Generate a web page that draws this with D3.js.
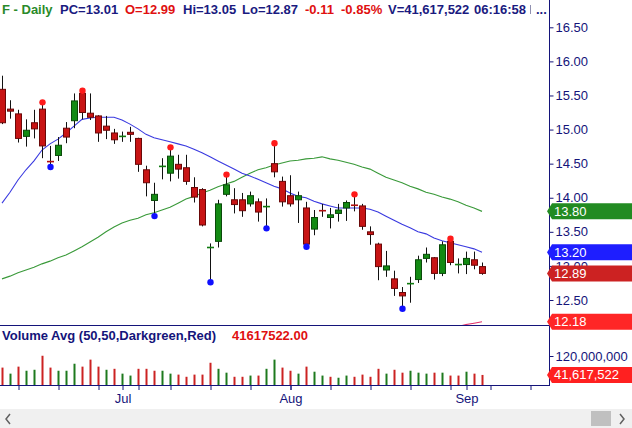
<!DOCTYPE html>
<html>
<head>
<meta charset="utf-8">
<script src="https://cdnjs.cloudflare.com/ajax/libs/d3/7.8.5/d3.min.js"></script>
<style>
  body { margin: 0; background: #fff; }
  svg { display: block; }
  text { font-family: "Liberation Sans", Arial, sans-serif; }
</style>
</head>
<body>
<div id="chart"></div>
<script>
// trading days shown (F - Daily, Jun 10 .. Sep 3 2021)
const dates = [
  "2021-06-10","2021-06-11","2021-06-14","2021-06-15","2021-06-16","2021-06-17","2021-06-18",
  "2021-06-21","2021-06-22","2021-06-23","2021-06-24","2021-06-25","2021-06-28","2021-06-29","2021-06-30",
  "2021-07-01","2021-07-02","2021-07-06","2021-07-07","2021-07-08","2021-07-09","2021-07-12","2021-07-13",
  "2021-07-14","2021-07-15","2021-07-16","2021-07-19","2021-07-20","2021-07-21","2021-07-22","2021-07-23",
  "2021-07-26","2021-07-27","2021-07-28","2021-07-29","2021-07-30",
  "2021-08-02","2021-08-03","2021-08-04","2021-08-05","2021-08-06","2021-08-09","2021-08-10","2021-08-11",
  "2021-08-12","2021-08-13","2021-08-16","2021-08-17","2021-08-18","2021-08-19","2021-08-20","2021-08-23",
  "2021-08-24","2021-08-25","2021-08-26","2021-08-27","2021-08-30","2021-08-31",
  "2021-09-01","2021-09-02","2021-09-03"
];
// empty slots to the right of the last bar
const futureDates = ["2021-09-06","2021-09-07","2021-09-08","2021-09-09","2021-09-10","2021-09-13","2021-09-14","2021-09-15"];

const opens = [15.59,15.30,15.23,14.90,15.10,15.30,14.55,14.62,15.02,15.13,15.53,15.24,15.20,15.05,14.95,
  14.88,14.96,14.87,14.41,13.96,14.44,14.36,14.49,14.44,14.15,14.12,13.25,13.36,14.05,13.97,13.97,13.91,13.94,13.86,14.50,14.24,
  14.03,13.97,13.85,13.54,13.83,13.71,13.77,13.85,13.90,13.88,13.50,13.32,12.94,12.81,12.61,12.73,12.80,13.11,13.12,12.89,13.36,13.01,
  13.02,13.09,12.99];
const highs = [15.79,15.43,15.29,15.15,15.29,15.37,14.76,14.89,15.11,15.53,15.54,15.53,15.21,15.20,15.01,
  14.97,15.04,14.88,14.47,14.22,14.58,14.71,14.63,14.63,14.30,14.14,13.33,13.97,14.31,14.14,14.07,14.09,13.99,13.99,14.77,14.31,
  14.33,14.09,13.94,13.82,13.91,13.85,13.91,13.96,14.02,13.91,13.58,13.34,13.22,12.93,12.69,12.84,13.15,13.27,13.13,13.36,13.37,13.11,
  13.21,13.21,13.05];
const lows = [15.08,15.16,14.81,14.75,14.87,14.58,14.48,14.54,14.80,15.02,15.15,15.14,14.82,14.86,14.79,
  14.82,14.82,14.38,14.02,13.76,14.27,14.24,14.28,14.19,13.93,13.58,12.79,13.27,14.02,13.77,13.72,13.87,13.65,13.58,14.30,13.87,
  13.87,13.63,13.31,13.45,13.72,13.55,13.65,13.66,13.80,13.53,13.31,12.79,12.84,12.56,12.40,12.46,12.75,13.05,12.80,12.85,13.01,12.89,
  12.88,12.95,12.87];
const closes = [15.10,15.27,14.87,14.99,15.01,14.76,14.53,14.77,14.89,15.42,15.25,15.18,14.95,14.99,14.85,
  14.90,14.93,14.49,14.22,14.05,14.46,14.61,14.42,14.24,14.01,13.60,13.27,13.91,14.19,13.90,13.81,14.03,13.79,13.87,14.38,13.94,
  13.91,14.03,13.32,13.71,13.81,13.75,13.82,13.93,13.89,13.58,13.46,12.99,13.00,12.67,12.56,12.74,13.09,13.17,12.89,13.31,13.05,13.02,
  13.11,13.01,12.89];
// volume in millions of shares
const volumes = [72,47,76,59,63,121,72,59,59,88,76,105,76,63,67,
  47,39,67,67,59,59,47,43,34,43,43,92,67,51,34,34,39,39,67,105,72,
  59,47,76,55,39,34,30,39,34,43,34,67,47,63,51,59,51,47,51,51,39,39,
  55,47,41.617522];
// moving averages
const ma20 = [13.92,14.08,14.26,14.41,14.54,14.70,14.79,14.86,14.95,15.05,15.15,15.17,15.18,15.18,15.18,
  15.14,15.08,15.01,14.93,14.88,14.85,14.82,14.79,14.76,14.71,14.66,14.60,14.54,14.48,14.42,14.36,14.32,14.27,14.22,14.17,14.13,
  14.07,14.02,14.00,13.95,13.91,13.88,13.85,13.85,13.85,13.85,13.83,13.79,13.73,13.67,13.61,13.56,13.50,13.47,13.41,13.37,13.34,13.31,
  13.28,13.25,13.20];
const ma50 = [12.81,12.85,12.90,12.94,12.98,13.03,13.07,13.12,13.16,13.22,13.28,13.35,13.42,13.50,13.57,
  13.63,13.67,13.70,13.75,13.78,13.82,13.86,13.92,13.98,14.02,14.07,14.11,14.16,14.20,14.24,14.30,14.36,14.41,14.44,14.48,14.51,
  14.54,14.55,14.57,14.58,14.60,14.57,14.55,14.52,14.49,14.45,14.42,14.36,14.30,14.26,14.22,14.17,14.13,14.08,14.05,14.01,13.98,13.94,
  13.89,13.85,13.80];
// long average, only its last days reach the visible price range
const ma200Start = 55;
const ma200 = [12.06,12.08,12.11,12.14,12.16,12.18];

const swingHighs = [5,10,21,28,34,44,56];
const swingLows = [6,19,26,33,38,50];

const priceTicks = [12.5,13,13.5,14,14.5,15,15.5,16,16.5];
const volumeTicks = [120e6];
const weekTicks = ["2021-06-14","2021-06-21","2021-06-28","2021-07-06","2021-07-12","2021-07-19","2021-07-26",
  "2021-08-02","2021-08-09","2021-08-16","2021-08-23","2021-08-30","2021-09-06","2021-09-13"];
const monthTicks = ["2021-07-01","2021-08-02","2021-09-01"];
const monthLabels = ["Jul","Aug","Sep"];

const header = [
  {t: "F - Daily", x: 2, c: "#2a8a2a"},
  {t: "PC=13.01", x: 60, c: "#1a1a80"},
  {t: "O=12.99", x: 125, c: "#e01010"},
  {t: "Hi=13.05", x: 183, c: "#1a1a80"},
  {t: "Lo=12.87", x: 242, c: "#1a1a80"},
  {t: "-0.11", x: 305, c: "#e01010"},
  {t: "-0.85%", x: 341, c: "#e01010"},
  {t: "V=41,617,522", x: 388, c: "#1a1a80"},
  {t: "06:16:58", x: 474, c: "#1a1a80"},
  {t: "...", x: 536, c: "#1a1a80"}
];

const width = 632, height = 428;
const axisX = 549, priceBottom = 325, volBottom = 385;
const navy = "#14147a";

const svg = d3.select("#chart").append("svg")
  .attr("width", width)
  .attr("height", height);

const allDates = dates.concat(futureDates);
const x = d3.scalePoint().domain(allDates).range([2, 2 + 8 * (allDates.length - 1)]);
const y = d3.scaleLinear().domain([12.5, 16.5]).range([300, 27.3]);
const vy = d3.scaleLinear().domain([0, 120e6]).range([volBottom, 356]);

svg.append("clipPath").attr("id", "pclip")
  .append("rect").attr("x", 0).attr("y", 0).attr("width", axisX).attr("height", priceBottom);

// header
svg.append("g").selectAll("text")
  .data(header).enter().append("text")
  .attr("x", d => d.x).attr("y", 14)
  .attr("font-size", 13).attr("font-weight", "bold")
  .attr("fill", d => d.c)
  .text(d => d.t);
svg.append("line").attr("x1", 530.5).attr("x2", 530.5).attr("y1", 5).attr("y2", 14)
  .attr("stroke", "#9090b0");

const plot = svg.append("g").attr("clip-path", "url(#pclip)");

// moving average lines
const line = d3.line().x(d => x(d.date)).y(d => y(d.v));
const series = [
  {vals: ma50.map((v, i) => ({date: dates[i], v})), c: "#3a9a3a"},
  {vals: ma20.map((v, i) => ({date: dates[i], v})), c: "#3a3ae0"},
  {vals: ma200.map((v, i) => ({date: dates[ma200Start + i], v})), c: "#e0306a"}
];
plot.selectAll("path.ma").data(series).enter().append("path")
  .attr("class", "ma")
  .attr("d", d => line(d.vals))
  .attr("fill", "none")
  .attr("stroke", d => d.c)
  .attr("stroke-width", 1.1);

// candles
const bars = dates.map((d, i) => ({date: d, o: opens[i], h: highs[i], l: lows[i], c: closes[i], i}));
const candle = plot.append("g").selectAll("g").data(bars).enter().append("g");

candle.append("line")
  .attr("x1", d => x(d.date) + 0.5).attr("x2", d => x(d.date) + 0.5)
  .attr("y1", d => y(d.h)).attr("y2", d => y(d.l))
  .attr("stroke", "#111").attr("stroke-width", 1);

candle.filter(d => Math.abs(d.c - d.o) >= 0.025).append("rect")
  .attr("x", d => x(d.date) - 2.5)
  .attr("width", 6)
  .attr("y", d => y(Math.max(d.o, d.c)))
  .attr("height", d => Math.max(1, Math.abs(y(d.o) - y(d.c))))
  .attr("fill", d => d.c >= d.o ? "#138a13" : "#c81414")
  .attr("stroke", d => d.c >= d.o ? "#0a4a0a" : "#6a0808")
  .attr("stroke-width", 1);

candle.filter(d => Math.abs(d.c - d.o) < 0.025).append("line")
  .attr("x1", d => x(d.date) - 3).attr("x2", d => x(d.date) + 4)
  .attr("y1", d => y(d.c)).attr("y2", d => y(d.c))
  .attr("stroke", d => d.c >= d.o ? "#0f7a0f" : "#b01010")
  .attr("stroke-width", 1.6);

// swing markers
plot.append("g").selectAll("circle.hi").data(swingHighs).enter().append("circle")
  .attr("cx", i => x(dates[i]) + 0.5).attr("cy", i => y(highs[i]) - 2)
  .attr("r", 3.2).attr("fill", "#ff1a1a");
plot.append("g").selectAll("circle.lo").data(swingLows).enter().append("circle")
  .attr("cx", i => x(dates[i]) + 0.5).attr("cy", i => y(lows[i]) + 2)
  .attr("r", 3.2).attr("fill", "#1010ff");

// volume bars, coloured by close against previous close
svg.append("g").selectAll("rect").data(volumes).enter().append("rect")
  .attr("x", (v, i) => x(dates[i]) - 0.5)
  .attr("width", 2)
  .attr("y", v => vy(v * 1e6))
  .attr("height", v => volBottom - vy(v * 1e6))
  .attr("fill", (v, i) => {
    const up = i === 0 ? closes[i] >= opens[i] : closes[i] >= closes[i - 1];
    return up ? "#1e7a1e" : "#cc2222";
  });

svg.append("text").attr("x", 2).attr("y", 340)
  .attr("font-size", 13).attr("font-weight", "bold").attr("fill", navy)
  .text("Volume Avg (50,50,Darkgreen,Red)");
svg.append("text").attr("x", 232).attr("y", 340)
  .attr("font-size", 13).attr("font-weight", "bold").attr("fill", "#e01010")
  .text("41617522.00");

// frame lines
svg.append("line").attr("x1", 0).attr("x2", axisX).attr("y1", priceBottom + 0.5).attr("y2", priceBottom + 0.5)
  .attr("stroke", navy);
svg.append("line").attr("x1", 0).attr("x2", axisX).attr("y1", volBottom + 0.5).attr("y2", volBottom + 0.5)
  .attr("stroke", navy);
svg.append("line").attr("x1", axisX + 0.5).attr("x2", axisX + 0.5).attr("y1", 0).attr("y2", volBottom + 1)
  .attr("stroke", navy);

// right axes
function styleAxis(g) {
  g.select(".domain").remove();
  g.selectAll(".tick line").attr("stroke", navy);
  g.selectAll(".tick text").attr("fill", navy).attr("font-size", 13)
    .attr("font-family", '"Liberation Sans", Arial, sans-serif');
}
svg.append("g").attr("transform", `translate(${axisX + 0.5},0)`)
  .call(d3.axisRight(y).tickValues(priceTicks).tickFormat(d3.format(".2f")).tickSize(4).tickPadding(2))
  .call(styleAxis);
svg.append("g").attr("transform", `translate(${axisX + 0.5},0)`)
  .call(d3.axisRight(vy).tickValues(volumeTicks).tickFormat(d3.format(",")).tickSize(4).tickPadding(2))
  .call(styleAxis);

// bottom date axis
svg.append("g").attr("transform", `translate(0.5,${volBottom})`)
  .call(d3.axisBottom(x).tickValues(weekTicks).tickFormat("").tickSize(5))
  .call(styleAxis);
svg.append("g").attr("transform", `translate(0.5,${volBottom})`)
  .call(d3.axisBottom(x).tickValues(monthTicks).tickFormat((d, i) => monthLabels[i]).tickSize(5).tickPadding(4))
  .call(styleAxis);

// last value tags on the right
const tags = [
  {v: y(ma50[ma50.length - 1]), t: d3.format(".2f")(ma50[ma50.length - 1]), c: "#228b22"},
  {v: y(ma20[ma20.length - 1]), t: d3.format(".2f")(ma20[ma20.length - 1]), c: "#1e1eff"},
  {v: y(closes[closes.length - 1]), t: d3.format(".2f")(closes[closes.length - 1]), c: "#cc2222"},
  {v: y(ma200[ma200.length - 1]), t: d3.format(".2f")(ma200[ma200.length - 1]), c: "#ff2626"},
  {v: vy(volumes[volumes.length - 1] * 1e6), t: d3.format(",")(Math.round(volumes[volumes.length - 1] * 1e6)), c: "#ff2020"}
];
const tag = svg.append("g").selectAll("g").data(tags).enter().append("g");
tag.append("path")
  .attr("d", d => `M${axisX - 2},${d.v} L${axisX + 3},${d.v - 8} L${width},${d.v - 8} L${width},${d.v + 8} L${axisX + 3},${d.v + 8} Z`)
  .attr("fill", d => d.c);
tag.append("text")
  .attr("x", axisX + 5).attr("y", d => d.v).attr("dy", "0.35em")
  .attr("font-size", 13).attr("fill", "#fff")
  .text(d => d.t);

// scrollbar
svg.append("rect").attr("x", 0).attr("y", 409).attr("width", width).attr("height", 19).attr("fill", "#f0f0f0");
svg.append("rect").attr("x", 591).attr("y", 411).attr("width", 20).attr("height", 15).attr("fill", "#c0c0c0");
svg.append("path").attr("d", "M10,414 L6,419 L10,424").attr("fill", "none").attr("stroke", "#606060").attr("stroke-width", 1.5);
svg.append("path").attr("d", "M620,414 L624,419 L620,424").attr("fill", "none").attr("stroke", "#606060").attr("stroke-width", 1.5);
</script>
</body>
</html>
